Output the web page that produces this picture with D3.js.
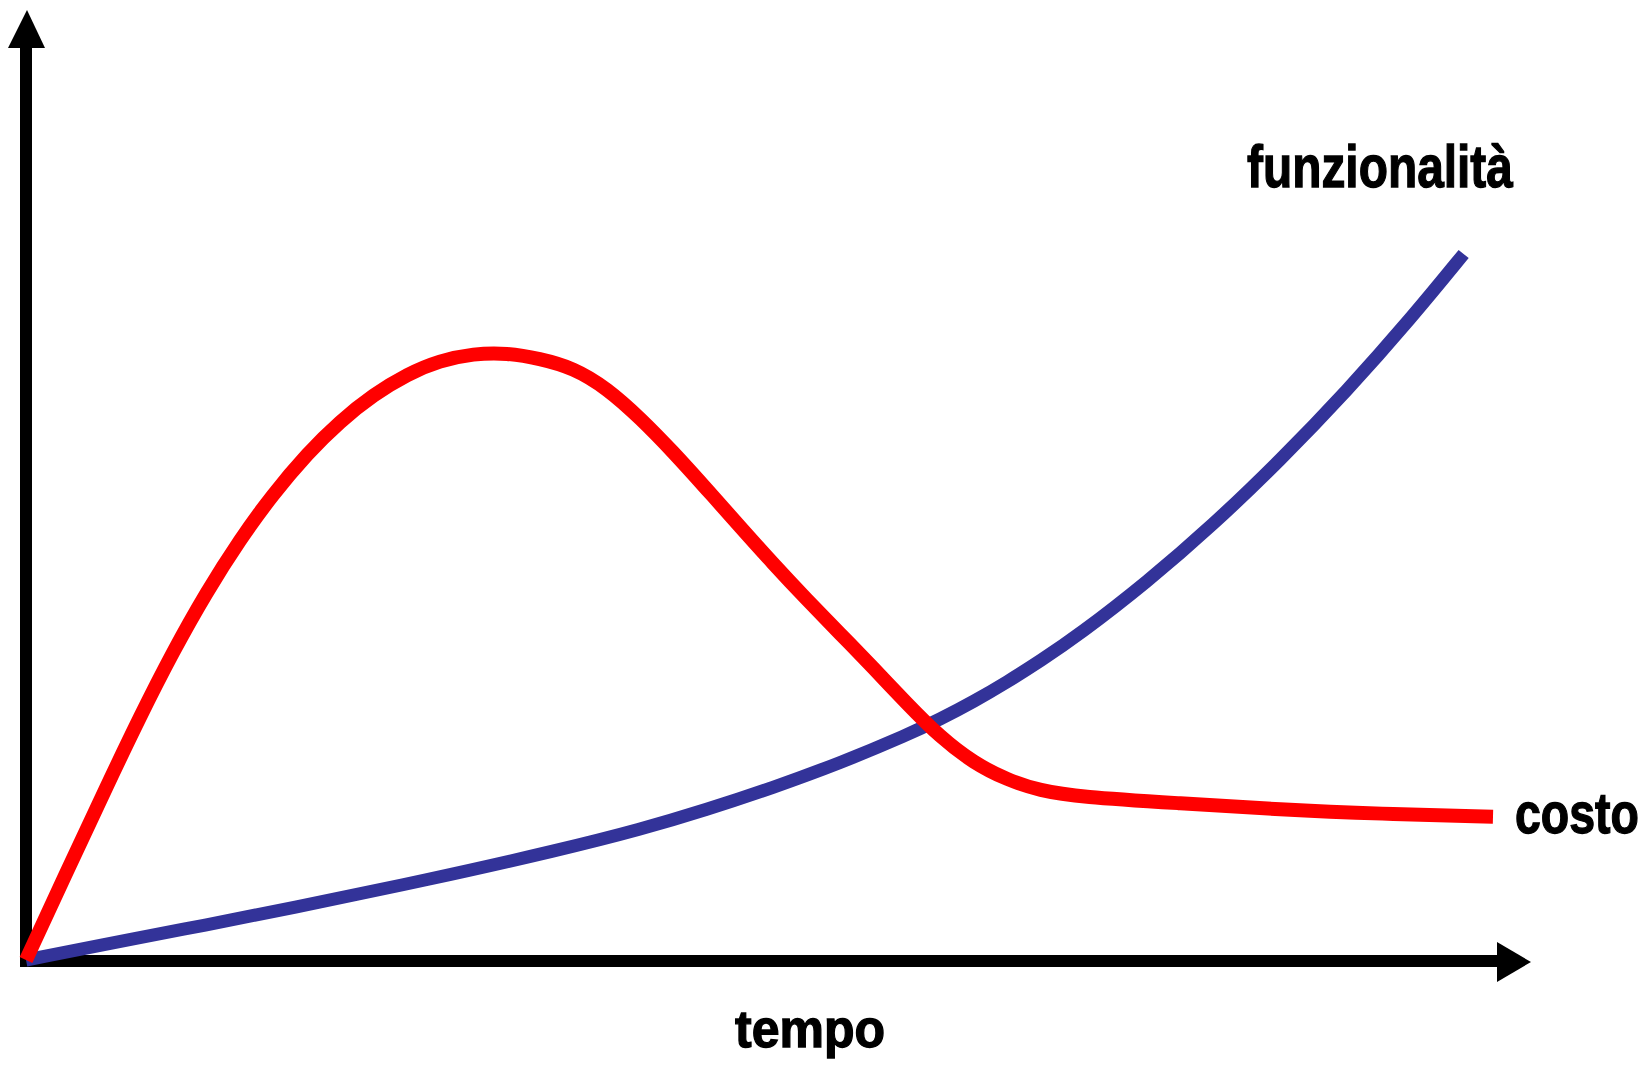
<!DOCTYPE html>
<html>
<head>
<meta charset="utf-8">
<script src="https://cdn.jsdelivr.net/npm/d3@7"></script>
<style>
  html, body { margin: 0; padding: 0; background: #fff; }
  svg { display: block; }
  .label { font-family: "Liberation Sans", Arial, sans-serif; font-weight: bold; fill: #000; stroke: #000; stroke-width: 1.3; }
</style>
</head>
<body>
<div id="chart"></div>
<script>
// tempo / valore (0-100)
var costoTime = [0, 2.8, 5.5, 7.8, 10.0, 12.3, 14.6, 16.8, 19.2, 21.4, 23.7, 26.0, 28.2, 30.5,
  32.8, 35.0, 37.3, 39.6, 41.9, 44.1, 46.4, 48.7, 50.9, 53.2, 55.5, 57.7, 60.1, 62.3, 64.6,
  66.9, 69.1, 71.8, 78.7, 85.5, 92.3, 100];
var costoValue = [0, 12.6, 24.6, 34.6, 43.6, 52.1, 59.6, 65.9, 71.8, 76.3, 80.1, 83.0, 84.9, 85.9,
  86.0, 85.2, 83.9, 81.0, 76.7, 72.0, 66.7, 61.3, 56.2, 51.1, 46.2, 41.5, 36.2, 31.6, 27.9,
  25.5, 24.0, 23.1, 22.2, 21.3, 20.7, 20.3];

var funzTime = [0, 8.0, 11.9, 17.7, 27.5, 36.4, 41.9, 46.4, 50.9, 55.5, 60.1, 62.3, 64.6,
  66.9, 69.1, 71.8, 76.4, 80.9, 85.5, 90.0, 94.5, 98.0];
var funzValue = [0, 3.3, 4.8, 7.2, 11.4, 15.6, 18.5, 21.3, 24.4, 27.9, 31.9, 34.1, 36.6,
  39.4, 42.3, 46.1, 53.5, 61.6, 70.8, 80.5, 91.1, 100];

var seriesNames = ["costo", "funzionalità"];
var axisLabel = "tempo";

function zip(xs, ys) {
  return xs.map(function(d, i) { return {t: d, v: ys[i]}; });
}

function drawArrow(svgparent, points) {
  svgparent.append("polygon")
    .attr("points", points.map(function(p) { return p.join(","); }).join(" "))
    .attr("fill", "#000");
}

// squeeze a bold label horizontally so it fits the given width
function addLabel(svgparent, txt, x, y, size, w) {
  var t = svgparent.append("text")
    .attr("class", "label")
    .attr("font-size", size)
    .text(txt);
  var natural = t.node().getComputedTextLength();
  t.attr("transform", "translate(" + x + "," + y + ") scale(" + (w / natural) + ",1)");
  return t;
}

function initChart(divSelector) {
  var width = 1649,
      height = 1065;

  var svg = d3.select(divSelector).append("svg")
    .attr("width", width)
    .attr("height", height);

  var x = d3.scaleLinear().domain([0, 100]).range([26, 1493]);
  var y = d3.scaleLinear().domain([0, 100]).range([960, 254]);

  var x0 = x(0), y0 = y(0);

  // axes with arrow heads
  svg.append("line")
    .attr("x1", x0).attr("y1", y0 + 7)
    .attr("x2", x0).attr("y2", 46)
    .attr("stroke", "#000").attr("stroke-width", 12);
  drawArrow(svg, [[x0 + 1, 10], [x0 - 18, 48], [x0 + 19, 48]]);

  svg.append("line")
    .attr("x1", x0 - 6).attr("y1", y0 + 1)
    .attr("x2", 1500).attr("y2", y0 + 1)
    .attr("stroke", "#000").attr("stroke-width", 12);
  drawArrow(svg, [[1531, y0 + 2], [1497, y0 - 18], [1497, y0 + 22]]);

  var line = d3.line()
    .x(function(d) { return x(d.t); })
    .y(function(d) { return y(d.v); })
    .curve(d3.curveBasis);

  svg.append("path")
    .datum(zip(funzTime, funzValue))
    .attr("d", line)
    .attr("fill", "none")
    .attr("stroke", "#333399")
    .attr("stroke-width", 13);

  svg.append("path")
    .datum(zip(costoTime, costoValue))
    .attr("d", line)
    .attr("fill", "none")
    .attr("stroke", "#ff0000")
    .attr("stroke-width", 14);

  // labels
  addLabel(svg, seriesNames[1], 1247, 187, 60, 266);
  addLabel(svg, seriesNames[0], 1515, 833, 58, 124);
  addLabel(svg, axisLabel, 735, 1047, 52, 150);
}

initChart("#chart");
</script>
</body>
</html>
